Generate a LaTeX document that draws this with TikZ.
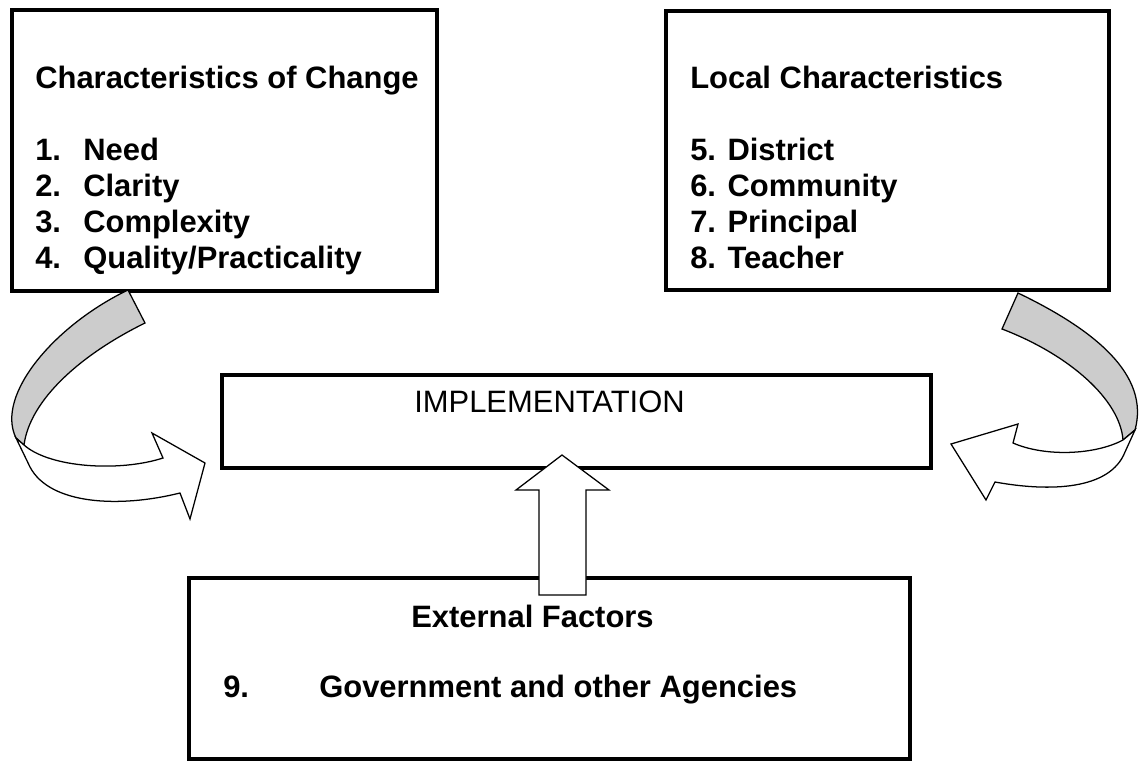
\documentclass[tikz,border=0pt]{standalone}
\usepackage{fontspec}
\setmainfont{Liberation Sans}

\tikzset{
	boxline/.style={draw, line width=2.4pt},
	ribbon/.style={draw, line width=0.9pt, line join=miter},
	txt/.style={anchor=base west, inner sep=0pt, font=\fontsize{22}{26}\selectfont\bfseries},
}

\begin{document}
\begin{tikzpicture}[x=0.025cm, y=-0.025cm]

	\useasboundingbox (0,0) rectangle (1143,763);

	% box corners
	\coordinate (C1) at (12,10);
	\coordinate (C2) at (437,291);
	\coordinate (L1) at (666,11);
	\coordinate (L2) at (1109,290);
	\coordinate (I1) at (222,375);
	\coordinate (I2) at (931,468);
	\coordinate (E1) at (189,578);
	\coordinate (E2) at (910,759);

	\draw [boxline] (C1) rectangle (C2);
	\draw [boxline] (L1) rectangle (L2);
	\draw [boxline] (I1) rectangle (I2);
	\draw [boxline] (E1) rectangle (E2);

	\node [txt] (chg) at (35,88) {Characteristics of Change};
	\foreach \n/\t/\y in {1/Need/160, 2/Clarity/196, 3/Complexity/232, 4/{Quality/Practicality}/268} {
		\node [txt] (cn\n) at (35,\y) {\n.};
		\node [txt] (ct\n) at (83,\y) {\t};
	}

	\node [txt] (loc) at (690,88) {Local Characteristics};
	\foreach \n/\t/\y in {5/District/160, 6/Community/196, 7/Principal/232, 8/Teacher/268}
		\node [txt] (lc\n) at (690,\y) {\n. \t};

	\node [txt, font=\fontsize{22}{26}\selectfont] (impl) at (414,412) {IMPLEMENTATION};

	\node [txt] (ext) at (411,627) {External Factors};
	\node [txt] (ag9) at (223,697) {9.};
	\node [txt] (agn) at (319,697) {Government and other Agencies};

	% left ribbon arrow
	\draw [ribbon, fill=black!20] (128,290) .. controls (55,325) and (-5,395) .. (16,438)
		-- (24,445) .. controls (30,400) and (80,355) .. (145,323) -- cycle;
	\draw [ribbon, fill=white] (24,445) .. controls (50,468) and (120,472) .. (163,458)
		-- (152,433) -- (205,463) -- (190,519) -- (180,493)
		.. controls (120,508) and (50,505) .. (30,467) -- (16,438) -- cycle;

	% right ribbon arrow
	\draw [ribbon, fill=black!20] (1018,293) .. controls (1095,330) and (1150,375) .. (1135,430)
		-- (1123,440) .. controls (1120,400) and (1070,355) .. (1002,329) -- cycle;
	\draw [ribbon, fill=white] (1123,440) .. controls (1095,455) and (1045,457) .. (1013,443)
		-- (1018,424) -- (951,444) -- (986,500) -- (995,482)
		.. controls (1050,492) and (1110,490) .. (1125,452) -- (1135,430) -- cycle;

	% up arrow
	\draw [ribbon, fill=white] (539,595) -- (539,490) -- (516,490) -- (562,455)
		-- (609,490) -- (586,490) -- (586,595) -- cycle;

\end{tikzpicture}
\end{document}
